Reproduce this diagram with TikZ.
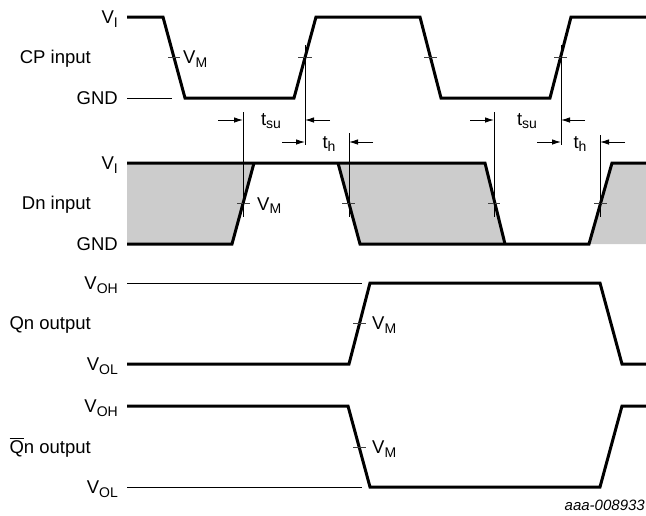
\documentclass[tikz,border=0pt]{standalone}
\usepackage{fontspec}
\setmainfont{Liberation Sans}
\usetikzlibrary{arrows.meta}
\definecolor{shadegray}{RGB}{204,204,204}
\newcommand\sbs[1]{\raisebox{-3.5pt}{\fontsize{14}{14}\selectfont #1}}
\newcommand\qbarsym{\setbox0=\hbox{Q}\rlap{\raisebox{\dimexpr\ht0+2pt\relax}{\rule{\wd0}{0.8pt}}}Q}
\begin{document}
\begin{tikzpicture}[x=1pt,y=-1pt,
  font=\fontsize{18.5}{20}\selectfont,
  wave/.style={line width=3pt},
  hair/.style={line width=0.9pt},
  tickmark/.style={line width=0.8pt, draw=black!75},
  lvl/.style={inner sep=0pt, anchor=base east},
  lbw/.style={inner sep=0pt, anchor=base west},
  lbe/.style={inner sep=0pt, anchor=base east},
  lbc/.style={inner sep=0pt, anchor=base},
  meas/.style={line width=0.9pt, -{Latex[length=9pt,width=5.5pt]}}
]
\useasboundingbox (0,0) rectangle (646,515);

% ---------- labels ----------
\node[lvl] (vi1) at (118,23.5) {V\sbs{I}};
\node[lvl] (cp) at (91,63.5) {CP input};
\node[lvl] (gnd1) at (118,104.5) {GND};
\node[lvl] (vi2) at (118,169.5) {V\sbs{I}};
\node[lvl] (dn) at (91,209.5) {Dn input};
\node[lvl] (gnd2) at (118,250.5) {GND};
\node[lvl] (voh1) at (118,289.5) {V\sbs{OH}};
\node[lvl] (qn) at (91,329.5) {Qn output};
\node[lvl] (vol1) at (118,370.5) {V\sbs{OL}};
\node[lvl] (voh2) at (118,412.5) {V\sbs{OH}};
\node[lvl] (qnb) at (91,453.5) {\qbarsym n output};
\node[lvl] (vol2) at (118,493.5) {V\sbs{OL}};

\node[lbw] (vm1) at (183,63.5) {V\sbs{M}};
\node[lbw] (vm2) at (257,210) {V\sbs{M}};
\node[lbw] (vm3) at (372,329.5) {V\sbs{M}};
\node[lbw] (vm4) at (372,453.5) {V\sbs{M}};

\node[lbc] (tsu1) at (271,125) {t\sbs{su}};
\node[lbc] (th1) at (329,148) {t\sbs{h}};
\node[lbc] (tsu2) at (527,125) {t\sbs{su}};
\node[lbc] (th2) at (580,148) {t\sbs{h}};

\node[lbe, font=\itshape\fontsize{15}{16}\selectfont] (code) at (645,510) {aaa-008933};

% ---------- Dn shading ----------
\fill[shadegray] (127,163) -- (254,163) -- (232,244) -- (127,244) -- cycle;
\fill[shadegray] (338,163) -- (485,163) -- (505,244) -- (360,244) -- cycle;
\fill[shadegray] (612,163) -- (646,163) -- (646,244) -- (589,244) -- cycle;

% ---------- CP input ----------
\draw[wave] (127,17) -- (163,17) -- (185,98) -- (294,98) -- (316,17) -- (420,17)
  -- (441,98) -- (550,98) -- (571,17) -- (646,17);
\draw[hair] (127,98) -- (172,98);
\draw[tickmark] (168,57) -- (180,57);
\draw[tickmark] (298,57) -- (312,57);
\draw[tickmark] (424,57) -- (437,57);
\draw[tickmark] (554,57) -- (567,57);

% ---------- Dn input ----------
\draw[wave] (127,163) -- (485,163) -- (505,244);
\draw[wave] (127,244) -- (232,244) -- (254,163);
\draw[wave] (338,163) -- (360,244) -- (589,244) -- (612,163) -- (646,163);
\draw[tickmark] (237,203) -- (250,203);
\draw[tickmark] (342,203) -- (355,203);
\draw[tickmark] (488,203) -- (500,203);
\draw[tickmark] (594,203) -- (607,203);

% ---------- timing references ----------
\draw[hair] (243,112) -- (243,217);
\draw[hair] (305,45) -- (305,145);
\draw[hair] (349,133) -- (349,217);
\draw[hair] (494,112) -- (494,217);
\draw[hair] (561,45) -- (561,145);
\draw[hair] (600,135) -- (600,217);

\draw[meas] (218,120) -- (243,120);
\draw[meas] (330,120) -- (305,120);
\draw[meas] (282,142) -- (305,142);
\draw[meas] (373,142) -- (349,142);
\draw[meas] (470,120) -- (494,120);
\draw[meas] (585,120) -- (561,120);
\draw[meas] (537,142) -- (561,142);
\draw[meas] (625,142) -- (600,142);

% ---------- Qn output ----------
\draw[hair] (127,283) -- (362,283);
\draw[wave] (127,364) -- (349,364) -- (370,283) -- (600,283) -- (622,364) -- (646,364);
\draw[tickmark] (353,323) -- (366,323);

% ---------- Qn-bar output ----------
\draw[wave] (127,406) -- (348,406) -- (370,487) -- (600,487) -- (622,406) -- (646,406);
\draw[hair] (127,487) -- (362,487);
\draw[tickmark] (353,447) -- (366,447);
\end{tikzpicture}
\end{document}
